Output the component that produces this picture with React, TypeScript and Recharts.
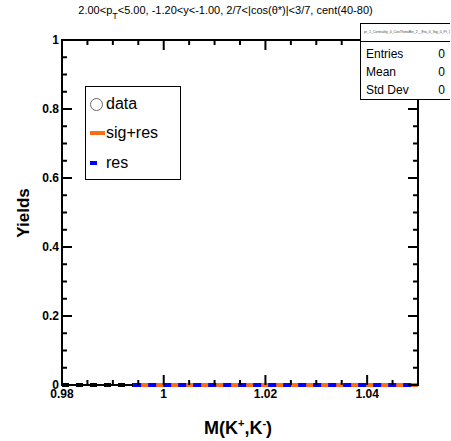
import React from 'react';
import { LineChart, Line, XAxis, YAxis } from 'recharts';

const mass = [0.98, 0.985, 0.99, 0.994, 1.0, 1.005, 1.01, 1.015, 1.02, 1.025, 1.03, 1.035, 1.04, 1.045, 1.05];
const bkg = [0, 0, 0, 0, 0, 0, 0, 0, 0, 0, 0, 0, 0, 0, 0];
const sigRes = [null, null, null, 0, 0, 0, 0, 0, 0, 0, 0, 0, 0, 0, 0];
const resOnly = [null, null, null, 0, 0, 0, 0, 0, 0, 0, 0, 0, 0, 0, 0];

const xTicks = [0.98, 0.985, 0.99, 0.995, 1.0, 1.005, 1.01, 1.015, 1.02, 1.025, 1.03, 1.035, 1.04, 1.045, 1.05];
const xMajor = [0.98, 1.0, 1.02, 1.04];
const xLabels = ['0.98', '1', '1.02', '1.04'];
const yTicks = [0, 0.05, 0.1, 0.15, 0.2, 0.25, 0.3, 0.35, 0.4, 0.45, 0.5, 0.55, 0.6, 0.65, 0.7, 0.75, 0.8, 0.85, 0.9, 0.95, 1.0];
const yMajor = [0, 0.2, 0.4, 0.6, 0.8, 1.0];
const yLabels = ['0', '0.2', '0.4', '0.6', '0.8', '1'];

const stats = [
  { name: 'Entries', value: '0' },
  { name: 'Mean', value: '0' },
  { name: 'Std Dev', value: '0' },
];

const rows = mass.map((m, i) => ({ m, bkg: bkg[i], sigRes: sigRes[i], res: resOnly[i] }));

const ORANGE = '#ff6e14';
const BLUE = '#0000ff';
const FONT = 'Liberation Sans, Arial, sans-serif';

const W = 451;
const H = 441;
const PLOT = { left: 62, top: 40, right: 418, bottom: 385 };
// stats box in the top right corner hides the frame below it
const STATS = { left: 360, top: 23, bottom: 99 };

const labelOf = (v: number, majors: number[], labels: string[]) => {
  const i = majors.findIndex((t) => Math.abs(t - v) < 1e-9);
  return i >= 0 ? labels[i] : '';
};

// bottom axis tick, mirrored onto the top edge of the frame
const renderXTick = (props: any) => {
  const { x, y, payload } = props;
  const lab = labelOf(payload.value, xMajor, xLabels);
  const len = lab !== '' ? 10 : 5;
  return (
    <g key={`x${payload.value}`}>
      <path d={`M${x},${y}V${y - len}`} stroke="#000" strokeWidth={2} fill="none" />
      {x < STATS.left - 2 && <path d={`M${x},${PLOT.top}V${PLOT.top + len}`} stroke="#000" strokeWidth={2} fill="none" />}
      <text x={x} y={y + 13} textAnchor="middle" fontSize={12} fontWeight="bold" fontFamily={FONT} fill="#000">
        {lab}
      </text>
    </g>
  );
};

// left axis tick, mirrored onto the right edge of the frame
const renderYTick = (props: any) => {
  const { x, y, payload } = props;
  const lab = labelOf(payload.value, yMajor, yLabels);
  const len = lab !== '' ? 10 : 5;
  return (
    <g key={`y${payload.value}`}>
      <path d={`M${x},${y}H${x + len}`} stroke="#000" strokeWidth={2} fill="none" />
      {y > STATS.bottom + 2 && <path d={`M${PLOT.right},${y}H${PLOT.right - len}`} stroke="#000" strokeWidth={2} fill="none" />}
      <text x={x - 3} y={y + 4} textAnchor="end" fontSize={12} fontWeight="bold" fontFamily={FONT} fill="#000">
        {lab}
      </text>
    </g>
  );
};

const edge = (left: number, top: number, width: number, height: number) => (
  <div style={{ position: 'absolute', left, top, width, height, background: '#000' }} />
);

export default function App() {
  return (
    <div style={{ position: 'absolute', left: 0, top: 0, width: W, height: H, background: '#fff', overflow: 'hidden' }}>
      {/* frame */}
      {edge(PLOT.left - 1, PLOT.top - 1, 2, PLOT.bottom - PLOT.top + 2)}
      {edge(PLOT.left - 1, PLOT.bottom - 1, PLOT.right - PLOT.left + 2, 2)}
      {edge(PLOT.left - 1, PLOT.top - 1, STATS.left - PLOT.left + 1, 2)}
      {edge(PLOT.right - 1, STATS.bottom, 2, PLOT.bottom - STATS.bottom + 1)}

      <div style={{ position: 'absolute', left: 0, width: W, top: 4, textAlign: 'center', fontSize: 11, fontFamily: FONT, whiteSpace: 'nowrap' }}>
        2.00&lt;p<sub style={{ fontSize: 9, verticalAlign: -5 }}>T</sub>&lt;5.00, -1.20&lt;y&lt;-1.00, 2/7&lt;|cos(θ*)|&lt;3/7, cent(40-80)
      </div>

      <div style={{ position: 'absolute', left: 24, top: 213, transform: 'translate(-50%, -50%) rotate(-90deg)', fontSize: 17, fontWeight: 'bold', fontFamily: FONT, whiteSpace: 'nowrap' }}>
        Yields
      </div>
      <div style={{ position: 'absolute', left: 238, top: 428, transform: 'translate(-50%, -50%)', fontSize: 18, fontWeight: 'bold', fontFamily: FONT, whiteSpace: 'nowrap' }}>
        M(K<sup style={{ fontSize: 11 }}>+</sup>,K<sup style={{ fontSize: 11 }}>-</sup>)
      </div>

      <div style={{ position: 'absolute', left: 85, top: 86, width: 94, height: 92, border: '1.5px solid #000', background: '#fff', fontSize: 16, fontFamily: FONT }}>
        <div style={{ position: 'absolute', left: 4, top: 8, display: 'flex', alignItems: 'center' }}>
          <span style={{ display: 'inline-block', width: 11, height: 11, borderRadius: '50%', border: '1.5px solid #666', marginRight: 3 }} />
          <span>data</span>
        </div>
        <div style={{ position: 'absolute', left: 4, top: 37, display: 'flex', alignItems: 'center' }}>
          <span style={{ display: 'inline-block', width: 15, height: 4, background: ORANGE, marginRight: 1 }} />
          <span>sig+res</span>
        </div>
        <div style={{ position: 'absolute', left: 4, top: 67, display: 'flex', alignItems: 'center' }}>
          <span style={{ display: 'inline-block', width: 7, height: 4, background: BLUE, marginRight: 9 }} />
          <span>res</span>
        </div>
      </div>

      <div style={{ position: 'absolute', left: STATS.left, top: STATS.top, width: 89, height: STATS.bottom - STATS.top - 1, border: '1.5px solid #000', borderRight: 'none', background: '#fff', fontSize: 12, fontFamily: FONT }}>
        <div style={{ height: 17, borderBottom: '1px solid #000', fontSize: 3.5, lineHeight: '17px', paddingLeft: 3, overflow: 'hidden', whiteSpace: 'nowrap', color: '#444' }}>
          pr_1_Centrality_0_CosThetaBin_2__Eta_0_Sig_0_Pt_3
        </div>
        {stats.map((s, i) => (
          <div key={s.name} style={{ position: 'absolute', left: 5, top: 23 + i * 18, width: 79, display: 'flex', justifyContent: 'space-between' }}>
            <span>{s.name}</span>
            <span>{s.value}</span>
          </div>
        ))}
      </div>

      {/* chart last, so its ticks and curves paint above the html boxes */}
      <div style={{ position: 'absolute', left: 0, top: 0, width: W, height: H }}>
        <LineChart width={W} height={H} data={rows} margin={{ top: PLOT.top, right: W - PLOT.right, bottom: 0, left: 0 }}>
          <XAxis
            dataKey="m"
            type="number"
            domain={[0.98, 1.05]}
            ticks={xTicks}
            interval={0}
            height={H - PLOT.bottom}
            tickSize={0}
            tickMargin={0}
            tickLine={false}
            axisLine={false}
            tick={renderXTick}
          />
          <YAxis
            type="number"
            domain={[0, 1]}
            ticks={yTicks}
            interval={0}
            width={PLOT.left}
            tickSize={0}
            tickMargin={0}
            tickLine={false}
            axisLine={false}
            tick={renderYTick}
          />
          <Line dataKey="bkg" stroke="#000" strokeWidth={4} strokeDasharray="7 7" dot={false} isAnimationActive={false} />
          <Line dataKey="sigRes" stroke={ORANGE} strokeWidth={4} dot={false} isAnimationActive={false} />
          <Line dataKey="res" stroke={BLUE} strokeWidth={4} strokeDasharray="8 7" dot={false} isAnimationActive={false} />
        </LineChart>
      </div>
    </div>
  );
}
